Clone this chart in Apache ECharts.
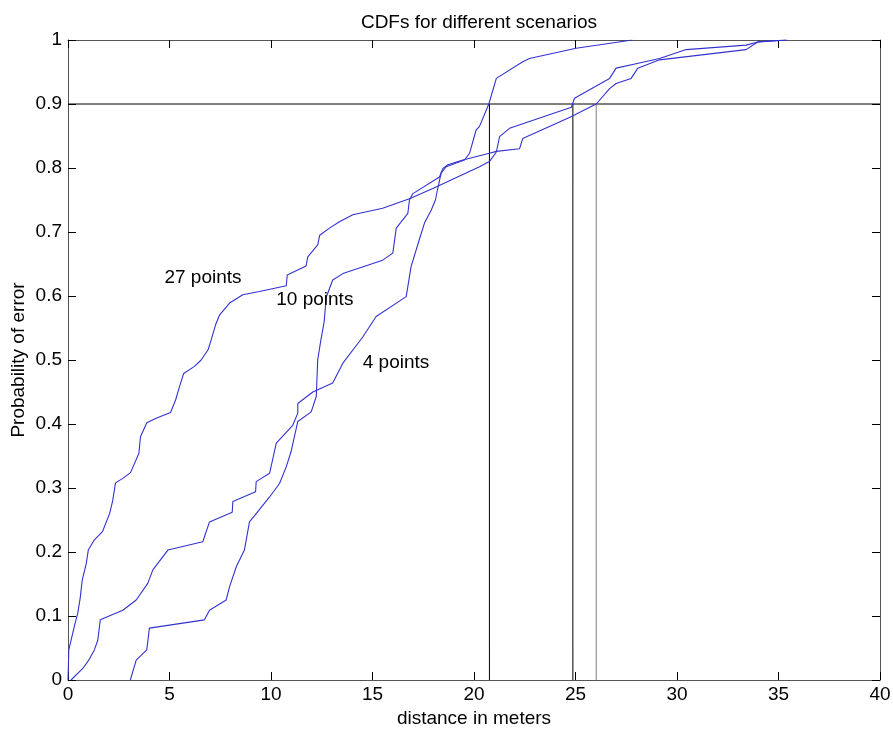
<!DOCTYPE html>
<html>
<head>
<meta charset="utf-8">
<script src="https://cdn.jsdelivr.net/npm/echarts@6/dist/echarts.min.js"></script>
<style>
html,body{margin:0;padding:0;background:#fff;}
#chart{width:893px;height:729px;}
</style>
</head>
<body>
<div id="chart"></div>
<script>
// ---- data ----
const titleText = 'CDFs for different scenarios';
const xLabel = 'distance in meters';
const yLabel = 'Probability of error';

const curve27 = [[0,0],[0.04,0.047],[0.35,0.089],[0.48,0.104],[0.6,0.128],[0.7,0.156],[0.9,0.182],[1.0,0.203],[1.3,0.219],[1.7,0.232],[2.05,0.26],[2.2,0.28],[2.34,0.308],[2.7,0.315],[3.08,0.324],[3.49,0.354],[3.57,0.38],[3.88,0.402],[4.34,0.409],[5.05,0.418],[5.3,0.4375],[5.49,0.458],[5.7,0.479],[6.23,0.49],[6.56,0.5],[6.9,0.516],[7.05,0.531],[7.27,0.555],[7.46,0.57],[7.96,0.589],[8.61,0.602],[9.43,0.607],[10.75,0.616],[10.8,0.633],[11.73,0.647],[11.81,0.661],[12.3,0.68],[12.4,0.695],[12.88,0.706],[13.37,0.716],[14.03,0.727],[15.5,0.737],[16.82,0.752],[17.97,0.768],[20.27,0.802],[20.76,0.81],[21.1,0.825],[21.26,0.849],[21.75,0.862],[24.8,0.895],[24.95,0.909],[26.68,0.94],[27.0,0.956],[28.15,0.964],[29.14,0.971],[30.45,0.985],[33.4,0.992],[33.98,0.997],[35.4,1.0]];

const curve4 = [[0.15,0],[0.73,0.018],[1.02,0.031],[1.3,0.047],[1.47,0.0625],[1.59,0.094],[2.7,0.109],[3.36,0.125],[3.93,0.151],[4.18,0.172],[4.92,0.203],[6.64,0.216],[6.97,0.247],[8.09,0.262],[8.12,0.279],[9.24,0.294],[9.27,0.31],[9.93,0.323],[10.26,0.37],[11.07,0.398],[11.32,0.417],[11.32,0.432],[12.06,0.45],[13.04,0.464],[13.54,0.495],[14.52,0.536],[15.18,0.568],[16.66,0.599],[16.9,0.646],[17.3,0.6875],[17.56,0.714],[17.89,0.734],[18.1,0.75],[18.2,0.766],[18.38,0.792],[18.63,0.802],[19.53,0.8125],[19.78,0.823],[20.1,0.859],[20.27,0.865],[20.73,0.9],[21.1,0.94],[22.4,0.966],[22.73,0.971],[25.03,0.987],[27.8,1.0]];

const curve10 = [[3.07,0],[3.36,0.031],[3.88,0.047],[4.01,0.081],[6.72,0.094],[6.97,0.109],[7.79,0.125],[7.96,0.146],[8.29,0.177],[8.69,0.203],[8.94,0.247],[9.27,0.26],[9.93,0.286],[10.42,0.307],[10.75,0.333],[10.99,0.357],[11.32,0.404],[11.98,0.419],[12.23,0.443],[12.3,0.5],[12.45,0.53],[12.62,0.56],[12.72,0.598],[13.04,0.625],[13.54,0.635],[15.5,0.656],[16.0,0.667],[16.17,0.706],[16.74,0.729],[16.82,0.75],[16.99,0.76],[18.3,0.786],[18.46,0.799],[18.71,0.805],[19.45,0.8125],[20.76,0.823],[21.1,0.826],[22.24,0.83],[22.4,0.846],[24.7,0.879],[26.02,0.9],[26.68,0.924],[27.0,0.932],[27.74,0.94],[28.07,0.956],[29.14,0.969],[33.4,0.985],[33.98,0.997],[35.4,1.0]];

const threshold = 0.9;
const crossX = [20.76, 24.87, 26.02];
const crossColors = ['#000000', '#000000', '#808080'];

const labelNames = ['27 points', '10 points', '4 points'];
const labelX = [4.75, 10.26, 14.52];
const labelY = [0.628, 0.594, 0.496];

const xMin = 0, xMax = 40, xStep = 5;
const yMin = 0, yMax = 1, yStep = 0.1;

// ---- chart ----
const FONT = 'Liberation Sans, Arial, Helvetica, sans-serif';
const chart = echarts.init(document.getElementById('chart'), null, {renderer: 'canvas'});

const curveStyle = {color: '#3232d0', width: 1.1};
function curveSeries(name, data) {
  return {name, type: 'line', data, showSymbol: false, symbol: 'none',
    lineStyle: curveStyle, itemStyle: {color: curveStyle.color}, silent: true, z: 3};
}

const refSeries = [{
  type: 'line', data: [[xMin, threshold], [xMax, threshold]], symbol: 'none',
  lineStyle: {color: '#000', width: 1}, silent: true, z: 2
}];
crossX.forEach((x, i) => {
  refSeries.push({
    type: 'line', data: [[x, yMin], [x, threshold]], symbol: 'none',
    lineStyle: {color: crossColors[i], width: 1}, silent: true, z: 2
  });
});

const axisLineStyle = {show: true, onZero: false, lineStyle: {color: '#555', width: 1}};
const tickStyle = {show: true, inside: true, length: 8, lineStyle: {color: '#000', width: 1}};

chart.setOption({
  animation: false,
  backgroundColor: '#fff',
  title: {
    text: titleText, left: 474, textAlign: 'center', top: 8,
    textStyle: {fontFamily: FONT, fontSize: 19, fontWeight: 'normal', color: '#000'}
  },
  grid: {left: 68, right: 13, top: 40, bottom: 49, containLabel: false, outerBoundsMode: 'none'},
  xAxis: [{
    type: 'value', min: xMin, max: xMax, interval: xStep, position: 'bottom',
    name: xLabel, nameLocation: 'middle', nameGap: 28,
    nameTextStyle: {fontFamily: FONT, fontSize: 19, color: '#000'},
    axisLine: axisLineStyle, axisTick: tickStyle, splitLine: {show: false},
    axisLabel: {fontFamily: FONT, fontSize: 19, color: '#000', margin: 5}
  }, {
    type: 'value', min: xMin, max: xMax, interval: xStep, position: 'top',
    axisLine: axisLineStyle, axisTick: tickStyle, splitLine: {show: false},
    axisLabel: {show: false}
  }],
  yAxis: [{
    type: 'value', min: yMin, max: yMax, interval: yStep, position: 'left',
    name: yLabel, nameLocation: 'middle', nameGap: 40, nameRotate: 90, nameMoveOverlap: false,
    nameTextStyle: {fontFamily: FONT, fontSize: 19, color: '#000'},
    axisLine: axisLineStyle, axisTick: tickStyle, splitLine: {show: false},
    axisLabel: {fontFamily: FONT, fontSize: 19, color: '#000', margin: 6,
      formatter: v => (Math.abs(v) < 1e-9 ? '0' : (Math.abs(v - 1) < 1e-9 ? '1' : v.toFixed(1)))}
  }, {
    type: 'value', min: yMin, max: yMax, interval: yStep, position: 'right',
    axisLine: axisLineStyle, axisTick: tickStyle, splitLine: {show: false},
    axisLabel: {show: false}
  }],
  series: [
    curveSeries('27 points', curve27),
    curveSeries('10 points', curve10),
    curveSeries('4 points', curve4),
    ...refSeries,
    {
      type: 'scatter', symbolSize: 0, silent: true, z: 5,
      itemStyle: {opacity: 1},
      data: labelNames.map((n, i) => ({name: n, value: [labelX[i], labelY[i]]})),
      label: {show: true, position: 'right', distance: 0, formatter: p => p.name,
        fontFamily: FONT, fontSize: 19, color: '#000', opacity: 1}
    }
  ]
});
</script>
</body>
</html>
